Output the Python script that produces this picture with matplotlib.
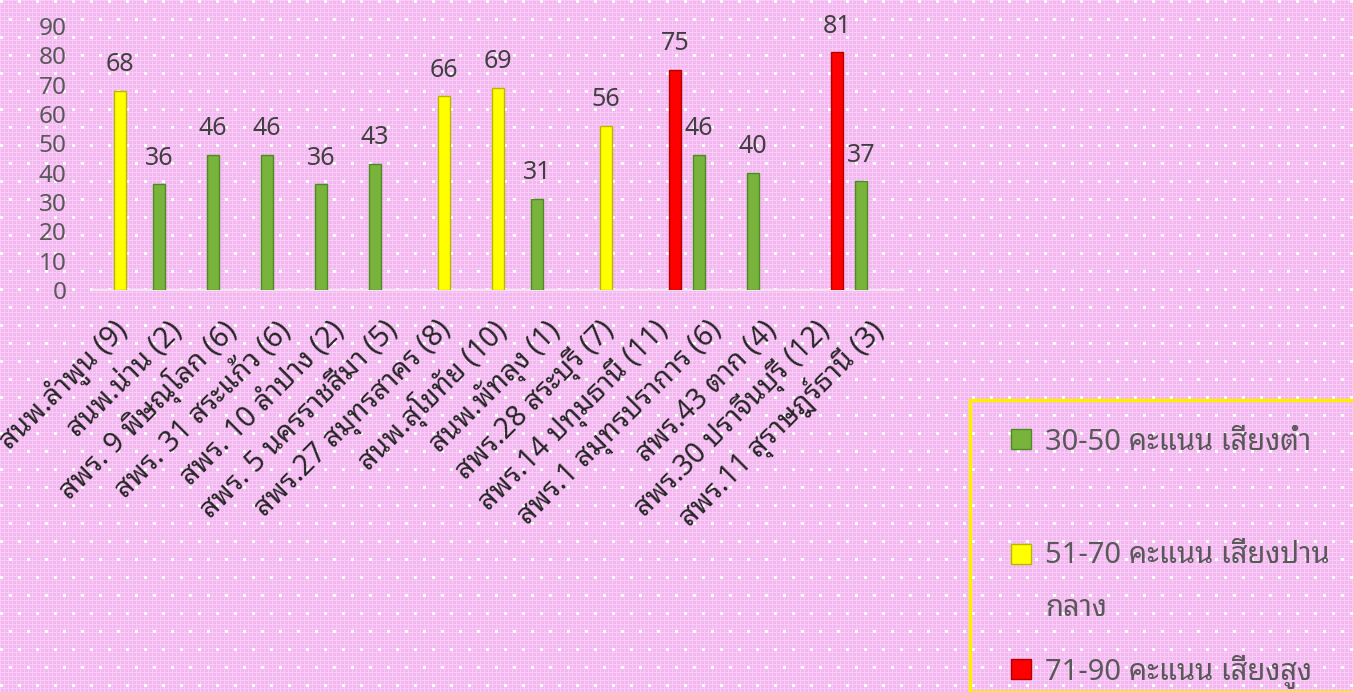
import numpy as np
import matplotlib
matplotlib.use('Agg')
import matplotlib.pyplot as plt
from matplotlib.patches import Rectangle
from matplotlib.transforms import ScaledTranslation

plt.rcParams['font.family'] = ['Noto Sans Thai Looped', 'DejaVu Sans']

# data
units = ['สนพ.ลำพูน (9)', 'สนพ.น่าน (2)', 'สพร. 9 พิษณุโลก (6)', 'สพร. 31 สระแก้ว (6)',
         'สพร. 10 ลำปาง (2)', 'สพร. 5 นครราชสีมา (5)', 'สพร.27 สมุทรสาคร (8)',
         'สนพ.สุโขทัย (10)', 'สนพ.พัทลุง (1)', 'สพร.28 สระบุรี (7)', 'สพร.14 ปทุมธานี (11)',
         'สพร.1 สมุทรปราการ (6)', 'สพร.43 ตาก (4)', 'สพร.30 ปราจีนบุรี (12)',
         'สพร.11 สุราษฎร์ธานี (3)']
scores = [68, 36, 46, 46, 36, 43, 66, 69, 31, 56, 75, 46, 40, 81, 37]

group_labels = ['30-50 คะแนน เสี่ยงต่ำ', '51-70 คะแนน เสี่ยงปาน\nกลาง', '71-90 คะแนน เสี่ยงสูง']
group_low = [30, 51, 71]
group_high = [50, 70, 90]
colors = ['#78b43c', '#ffff00', '#ff0000']
edges = ['#4e8a22', '#b8b800', '#b00000']

W, H = 1353, 692
fig = plt.figure(figsize=(W / 100, H / 100), dpi=100)

# pink dotted background
yy, xx = np.mgrid[0:H, 0:W]
bg = np.empty((H, W, 3))
bg[:] = (0.955, 0.72, 0.94)
bg[(xx % 4 == 0) | (yy % 4 == 0)] = (0.975, 0.80, 0.965)
dots = ((yy % 18) < 3) & (((xx + 9 * ((yy // 18) % 2)) % 18) < 3)
bg[dots] = (1, 1, 1)
fig.figimage(bg, 0, 0, zorder=0)

ax = fig.add_axes([93 / W, 1 - 290 / H, 810 / W, 264 / H])
ax.set_zorder(2)
ax.set_facecolor('none')

idx = np.arange(len(units))
vals = np.array(scores)
offsets = [-0.278, 0.0, 0.278]
for g in range(3):
    m = (vals >= group_low[g]) & (vals <= group_high[g])
    bars = ax.bar(idx[m] + offsets[g], vals[m], width=0.23, color=colors[g],
                  edgecolor=edges[g], linewidth=1, zorder=3)
    ax.bar_label(bars, padding=10, fontsize=18, color='#404040')

ax.set_xlim(-0.5, len(units) - 0.5)
ax.set_ylim(0, 90)
ax.set_yticks(range(0, 91, 10))
ax.tick_params(axis='y', length=0, pad=19, labelsize=17.5, labelcolor='#595959')
ax.set_xticks(idx)
ax.set_xticklabels(units, rotation=45, ha='right', va='center', rotation_mode='anchor')
ax.tick_params(axis='x', length=0, pad=26, labelsize=20.5, labelcolor='#262626')
shift = ScaledTranslation(4 / 100, 0, fig.dpi_scale_trans)
for lab in ax.get_xticklabels():
    lab.set_transform(lab.get_transform() + shift)

for s in ['top', 'right', 'left']:
    ax.spines[s].set_visible(False)
ax.spines['bottom'].set_color('#f2e4f0')
ax.spines['bottom'].set_linewidth(1.5)

# legend box (cut off at the figure edge, as in the reference)
fig.add_artist(Rectangle((970 / W, 0), 1, 1 - 400 / H, transform=fig.transFigure,
                         facecolor='none', edgecolor='#ffee00', linewidth=2.5))
for g in range(3):
    base = 450 + 115 * g
    last = base + 51 * group_labels[g].count('\n')
    fig.add_artist(Rectangle((1011 / W, 1 - (base - 1) / H), 20 / W, 20 / H,
                             transform=fig.transFigure, facecolor=colors[g],
                             edgecolor=edges[g], linewidth=1))
    fig.text(1045 / W, 1 - last / H, group_labels[g], fontsize=21, color='#595959',
             va='baseline', ha='left', linespacing=2.1)

fig.savefig('out.png', dpi=100)
